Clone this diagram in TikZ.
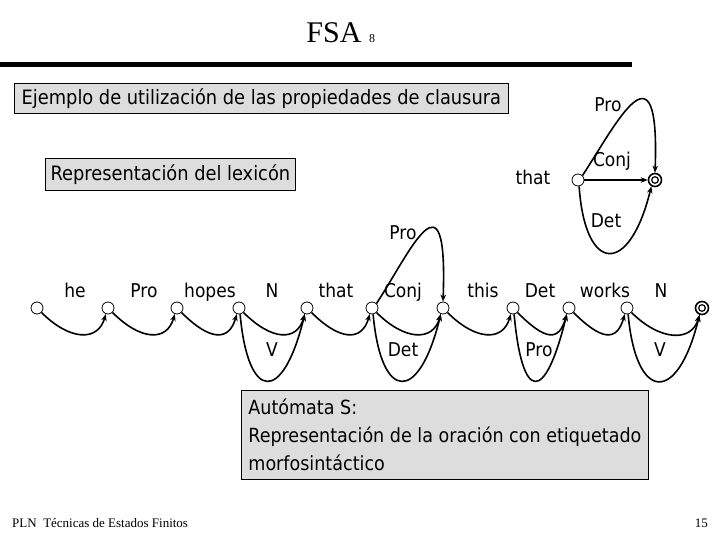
\documentclass[tikz,border=0pt]{standalone}
\usepackage{fontspec}
\setmainfont{DejaVu Sans Condensed}
\newfontfamily\serifrm{Liberation Serif}
\usetikzlibrary{arrows.meta}
\definecolor{boxgray}{RGB}{221,221,221}
\begin{document}
\begin{tikzpicture}[x=1pt,y=-1pt,
  st/.style={circle,draw,line width=0.8pt,minimum size=12pt,inner sep=0pt},
  fin/.style={circle,draw,line width=1.6pt,minimum size=13pt,inner sep=0pt},
  lbl/.style={inner sep=0pt,anchor=base,font=\fontsize{19}{19}\selectfont},
  arr/.style={line width=1.6pt,-{Stealth[length=7pt,width=5.5pt]}},
  wave/.style={arr},
  graybox/.style={draw,line width=0.8pt,fill=boxgray,inner sep=0pt}
]
\useasboundingbox (0,0) rectangle (720,540);

% title
\node[inner sep=0pt,font=\serifrm\fontsize{30}{30}\selectfont] (title) at (334,33) {FSA};
\node[inner sep=0pt,font=\serifrm\fontsize{12}{12}\selectfont] (titlenum) at (372,39) {8};
\draw[line width=5pt] (0,65) -- (632,65);

% boxes
\node[graybox,minimum width=494pt,minimum height=30pt,anchor=north west,font=\fontsize{19.8}{19.8}\selectfont] (ejemplo) at (14,83) {Ejemplo de utilización de las propiedades de clausura};
\node[graybox,minimum width=250pt,minimum height=32pt,anchor=north west,font=\fontsize{19.8}{19.8}\selectfont] (lexicon) at (45,158) {Representación del lexicón};
\node[graybox,minimum width=407pt,minimum height=89pt,anchor=north west,align=left,font=\fontsize{19.5}{28}\selectfont] (automata) at (241,390) {Autómata S:\\Representación de la oración con etiquetado\\morfosintáctico};

% lexicon automaton (top right)
\node[st] (l0) at (578,180) {};
\node[fin] (l1) at (655,180) {};
\draw[line width=1.2pt] (l1) circle (3.3pt);
\node[lbl] (lthat) at (533,185) {that};
\node[lbl] (lpro) at (608,112) {Pro};
\node[lbl] (lconj) at (612,167) {Conj};
\node[lbl] (ldet) at (606,228) {Det};
\draw[arr] (l0.45) .. controls +(34,-52) and +(5,-137) .. (l1.north);
\draw[arr] (l0.east) -- (l1.west);
\draw[arr] (l0.-80) .. controls +(6,88) and +(-22,90) .. (l1.-120);

% sentence automaton
\foreach \n/\x in {0/37,1/108,2/177,3/239,4/307,5/372,6/443,7/513,8/569,9/627}
  \node[st] (s\n) at (\x,308) {};
\node[fin] (s10) at (702,308) {};
\draw[line width=1.2pt] (s10) circle (3.3pt);

% upper arcs
\foreach \a/\b in {0/1,1/2,2/3,3/4,4/5,5/6,6/7,7/8,8/9,9/10}
  \draw[wave] (s\a.-45) .. controls +(28,28) and +(-8,28) .. (s\b.-110);
% lower loops
\foreach \a/\b in {3/4,5/6,7/8,9/10}
  \draw[arr] (s\a.-80) .. controls +(8,88) and +(-22,90) .. (s\b.-110);
% Pro over Conj
\draw[arr] (s5.45) .. controls +(34,-52) and +(5,-137) .. (s6.north);

% labels
\node[lbl] (w0) at (75,297) {he};
\node[lbl] (w1) at (144,297) {Pro};
\node[lbl] (w2) at (210,297) {hopes};
\node[lbl] (w3) at (272,297) {N};
\node[lbl] (w4) at (336,297) {that};
\node[lbl] (w5) at (403,297) {Conj};
\node[lbl] (w6) at (483,297) {this};
\node[lbl] (w7) at (540,297) {Det};
\node[lbl] (w8) at (605,297) {works};
\node[lbl] (w9) at (661,297) {N};
\node[lbl] (v3) at (272,356) {V};
\node[lbl] (v5) at (403,356) {Det};
\node[lbl] (v7) at (539,356) {Pro};
\node[lbl] (v9) at (660,356) {V};
\node[lbl] (p5) at (403,240) {Pro};

% footer
\node[inner sep=0pt,anchor=west,font=\serifrm\fontsize{13}{13}\selectfont] (footer) at (12,523) {PLN\ \ Técnicas de Estados Finitos};
\node[inner sep=0pt,anchor=east,font=\serifrm\fontsize{13}{13}\selectfont] (page) at (708,523) {15};
\end{tikzpicture}
\end{document}
